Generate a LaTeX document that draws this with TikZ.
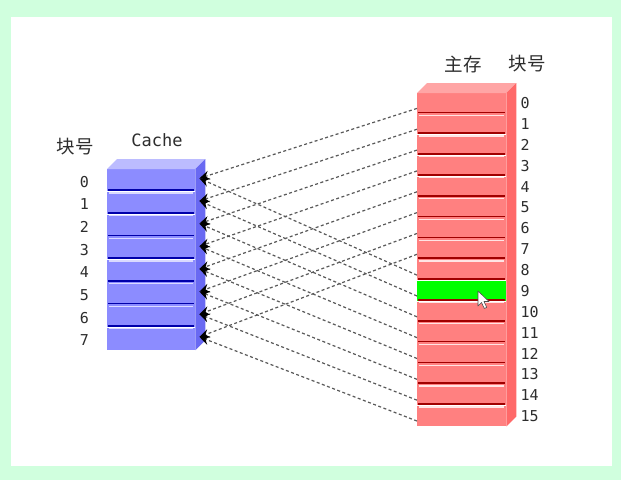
\documentclass[tikz,border=0pt]{standalone}
\usepackage{fontspec}
\setmainfont{DejaVu Sans Mono}
\newfontfamily\cjkfont{Noto Sans CJK SC}
\usetikzlibrary{arrows.meta,positioning}
\definecolor{mintbg}{RGB}{208,255,222}
\definecolor{cachefront}{RGB}{140,140,255}
\definecolor{cachetop}{RGB}{188,188,255}
\definecolor{cacheside}{RGB}{105,105,242}
\definecolor{cacheline}{RGB}{0,0,170}
\definecolor{cachelight}{RGB}{218,218,255}
\definecolor{memfront}{RGB}{255,128,128}
\definecolor{memtop}{RGB}{255,165,165}
\definecolor{memside}{RGB}{255,105,105}
\definecolor{memline}{RGB}{160,0,0}
\definecolor{memlight}{RGB}{255,228,228}
\definecolor{hitgreen}{RGB}{0,255,0}
\definecolor{labelgray}{RGB}{45,45,45}

\begin{document}
\begin{tikzpicture}[x=1pt, y=-1pt,
    cacherow/.style={rectangle, inner sep=0pt, minimum width=88pt, minimum height=22.25pt, fill=cachefront},
    memrow/.style={rectangle, inner sep=0pt, minimum width=89pt, minimum height=20.44pt, fill=memfront},
    numlabel/.style={inner sep=0pt, font=\fontsize{15}{15}\selectfont, text=labelgray},
    headlabel/.style={inner sep=0pt, font=\cjkfont\fontsize{18.5}{18.5}\selectfont, text=labelgray},
    maparrow/.style={-{Stealth[length=10pt, width=9pt, inset=3.5pt, color=black]}, black!65, line width=1.2pt, dash pattern=on 3pt off 2.5pt}
  ]
    \fill[mintbg] (0,0) rectangle (621,480);
    \fill[white] (11,17) rectangle (612,466);

    % cache block
    \node (c0) [cacherow, anchor=north west] at (107,169) {};
    \foreach \j [evaluate=\j as \p using int(\j-1)] in {1,...,7}
      \node (c\j) [cacherow, below=0pt of c\p] {};
    \fill[cachetop] (c0.north west) -- ++(10,-10) -- ([xshift=10pt,yshift=10pt]c0.north east) -- (c0.north east) -- cycle;
    \fill[cacheside] (c0.north east) -- ++(10,-10) -- ([xshift=10pt,yshift=10pt]c7.south east) -- (c7.south east) -- cycle;
    \foreach \j in {1,...,7} {
      \draw[cacheline, line width=1.6pt] ([xshift=1pt,yshift=1.5pt]c\j.north west) -- ([xshift=-1pt,yshift=1.5pt]c\j.north east);
      \draw[cachelight, line width=1.2pt] ([xshift=2pt,yshift=-1.3pt]c\j.north west) -- ([xshift=-2pt,yshift=-1.3pt]c\j.north east);
    }

    % main memory block
    \node (m0) [memrow, anchor=north west] at (417,93) {};
    \foreach \i [evaluate=\i as \p using int(\i-1)] in {1,...,15}
      \node (m\i) [memrow, below=0pt of m\p] {};
    \fill[hitgreen] (m9.north west) rectangle (m9.south east);
    \fill[memtop] (m0.north west) -- ++(10,-10) -- ([xshift=10pt,yshift=10pt]m0.north east) -- (m0.north east) -- cycle;
    \fill[memside] (m0.north east) -- ++(10,-10) -- ([xshift=10pt,yshift=10pt]m15.south east) -- (m15.south east) -- cycle;
    \foreach \i in {1,...,15} {
      \draw[memline, line width=1.6pt] ([xshift=1pt,yshift=1.5pt]m\i.north west) -- ([xshift=-1pt,yshift=1.5pt]m\i.north east);
      \ifnum\i=9 \else
        \draw[memlight, line width=1.2pt] ([xshift=2pt,yshift=-1.3pt]m\i.north west) -- ([xshift=-2pt,yshift=-1.3pt]m\i.north east);
      \fi
    }

    % block numbers
    \foreach \j in {0,...,7}
      \node (cn\j) [numlabel, left=18pt of c\j, yshift=-1.5pt] {\j};
    \foreach \i in {0,...,15}
      \node (mn\i) [numlabel, right=14pt of m\i] {\i};

    \node (cacheid) [headlabel] at (75,147) {块号};
    \node (cachename) [numlabel, font=\fontsize{17}{17}\selectfont] at (157,140) {Cache};
    \node (memname) [headlabel] at (463,64) {主存};
    \node (memid) [headlabel] at (527,64) {块号};

    % mapping
    \foreach \i in {0,...,15} {
      \pgfmathtruncatemacro\j{mod(\i,8)}
      \draw[maparrow] ([yshift=-5pt]m\i.west) -- ([xshift=4pt,yshift=2pt]c\j.east);
    }

    % mouse pointer
    \filldraw[fill=white, draw=black!70, line width=0.6pt, line join=round] (478,291) -- ++(0,15) -- ++(3.5,-3.5) -- ++(2.8,6) -- ++(2.4,-1.1) -- ++(-2.7,-5.9) -- ++(5,0) -- cycle;
  \end{tikzpicture}
\end{document}
